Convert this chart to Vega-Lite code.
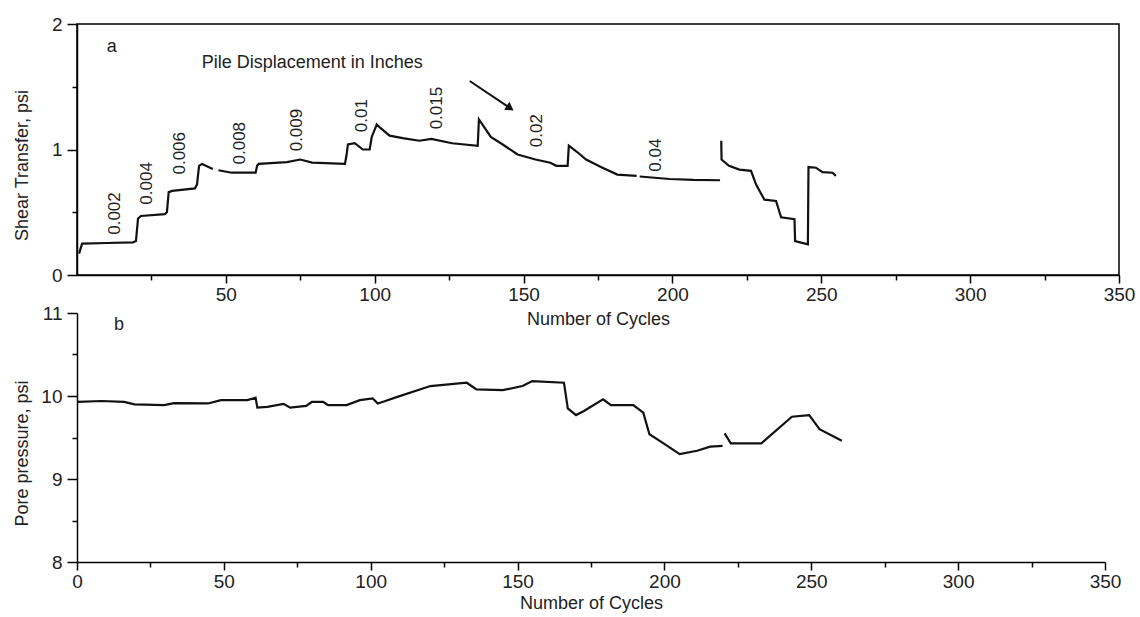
{
  "$schema": "https://vega.github.io/schema/vega-lite/v6.json",
  "background": "white",
  "padding": {"left": 12, "top": 14, "right": 5, "bottom": 5},
  "bounds": "flush",
  "spacing": 38,
  "config": {
    "font": "Liberation Sans",
    "view": {"stroke": null},
    "axis": {
      "grid": false,
      "domainColor": "black",
      "domainWidth": 1.5,
      "tickColor": "black",
      "tickWidth": 1.5,
      "labelColor": "#222",
      "labelFontSize": 19,
      "labelFont": "Liberation Sans",
      "titleFont": "Liberation Sans",
      "titleFontSize": 18,
      "titleFontWeight": "normal",
      "titleColor": "#222",
      "labelFlush": false,
      "labelOverlap": false
    }
  },
  "datasets": {
    "shear": [
      {"cycle": 0.7, "shear": 0.17, "seg": "A"},
      {"cycle": 1.7, "shear": 0.25, "seg": "A"},
      {"cycle": 10, "shear": 0.255, "seg": "A"},
      {"cycle": 18.8, "shear": 0.26, "seg": "A"},
      {"cycle": 19.8, "shear": 0.27, "seg": "A"},
      {"cycle": 20.5, "shear": 0.45, "seg": "A"},
      {"cycle": 21.5, "shear": 0.47, "seg": "A"},
      {"cycle": 29.5, "shear": 0.485, "seg": "A"},
      {"cycle": 30.2, "shear": 0.5, "seg": "A"},
      {"cycle": 30.8, "shear": 0.66, "seg": "A"},
      {"cycle": 32, "shear": 0.67, "seg": "A"},
      {"cycle": 39.6, "shear": 0.69, "seg": "A"},
      {"cycle": 40.3, "shear": 0.72, "seg": "A"},
      {"cycle": 41, "shear": 0.87, "seg": "A"},
      {"cycle": 42, "shear": 0.885, "seg": "A"},
      {"cycle": 45.6, "shear": 0.845, "seg": "A"},
      {"cycle": 47.5, "shear": 0.835, "seg": "B"},
      {"cycle": 52, "shear": 0.815, "seg": "B"},
      {"cycle": 60, "shear": 0.815, "seg": "B"},
      {"cycle": 60.5, "shear": 0.87, "seg": "B"},
      {"cycle": 61, "shear": 0.885, "seg": "B"},
      {"cycle": 70.5, "shear": 0.9, "seg": "B"},
      {"cycle": 75, "shear": 0.92, "seg": "B"},
      {"cycle": 79, "shear": 0.895, "seg": "B"},
      {"cycle": 90, "shear": 0.885, "seg": "B"},
      {"cycle": 90.5, "shear": 0.95, "seg": "B"},
      {"cycle": 91, "shear": 1.04, "seg": "B"},
      {"cycle": 93.3, "shear": 1.05, "seg": "B"},
      {"cycle": 96, "shear": 1.0, "seg": "B"},
      {"cycle": 98.3, "shear": 1.0, "seg": "B"},
      {"cycle": 99, "shear": 1.1, "seg": "B"},
      {"cycle": 100.7, "shear": 1.2, "seg": "B"},
      {"cycle": 102, "shear": 1.17, "seg": "B"},
      {"cycle": 105, "shear": 1.11, "seg": "B"},
      {"cycle": 109.4, "shear": 1.09, "seg": "B"},
      {"cycle": 115, "shear": 1.07, "seg": "B"},
      {"cycle": 119, "shear": 1.085, "seg": "B"},
      {"cycle": 126, "shear": 1.05, "seg": "B"},
      {"cycle": 134.6, "shear": 1.03, "seg": "B"},
      {"cycle": 135, "shear": 1.24, "seg": "B"},
      {"cycle": 137, "shear": 1.17, "seg": "B"},
      {"cycle": 139, "shear": 1.1, "seg": "B"},
      {"cycle": 143, "shear": 1.04, "seg": "B"},
      {"cycle": 148, "shear": 0.96, "seg": "B"},
      {"cycle": 154, "shear": 0.92, "seg": "B"},
      {"cycle": 159, "shear": 0.895, "seg": "B"},
      {"cycle": 161, "shear": 0.87, "seg": "B"},
      {"cycle": 164.8, "shear": 0.87, "seg": "B"},
      {"cycle": 165.2, "shear": 1.03, "seg": "B"},
      {"cycle": 168, "shear": 0.98, "seg": "B"},
      {"cycle": 171, "shear": 0.92, "seg": "B"},
      {"cycle": 176.5, "shear": 0.855, "seg": "B"},
      {"cycle": 181.5, "shear": 0.8, "seg": "B"},
      {"cycle": 188, "shear": 0.79, "seg": "B"},
      {"cycle": 189, "shear": 0.785, "seg": "C"},
      {"cycle": 199, "shear": 0.765, "seg": "C"},
      {"cycle": 207, "shear": 0.758, "seg": "C"},
      {"cycle": 216, "shear": 0.755, "seg": "C"},
      {"cycle": 216.4, "shear": 1.07, "seg": "D"},
      {"cycle": 216.5, "shear": 0.92, "seg": "D"},
      {"cycle": 219, "shear": 0.87, "seg": "D"},
      {"cycle": 222.5, "shear": 0.84, "seg": "D"},
      {"cycle": 226.4, "shear": 0.83, "seg": "D"},
      {"cycle": 228.1, "shear": 0.72, "seg": "D"},
      {"cycle": 230.9, "shear": 0.6, "seg": "D"},
      {"cycle": 234.8, "shear": 0.59, "seg": "D"},
      {"cycle": 236.5, "shear": 0.46, "seg": "D"},
      {"cycle": 241, "shear": 0.445, "seg": "D"},
      {"cycle": 241.2, "shear": 0.27, "seg": "D"},
      {"cycle": 245.5, "shear": 0.245, "seg": "D"},
      {"cycle": 245.7, "shear": 0.86, "seg": "D"},
      {"cycle": 248.2, "shear": 0.855, "seg": "D"},
      {"cycle": 250.4, "shear": 0.82, "seg": "D"},
      {"cycle": 253.8, "shear": 0.815, "seg": "D"},
      {"cycle": 254.9, "shear": 0.79, "seg": "D"}
    ],
    "disp": [
      {"cycle": 12.8, "shear": 0.49, "label": "0.002"},
      {"cycle": 23.5, "shear": 0.73, "label": "0.004"},
      {"cycle": 34.6, "shear": 0.97, "label": "0.006"},
      {"cycle": 54.7, "shear": 1.05, "label": "0.008"},
      {"cycle": 73.8, "shear": 1.155, "label": "0.009"},
      {"cycle": 95.6, "shear": 1.27, "label": "0.01"},
      {"cycle": 120.8, "shear": 1.33, "label": "0.015"},
      {"cycle": 154.4, "shear": 1.15, "label": "0.02"},
      {"cycle": 194.6, "shear": 0.955, "label": "0.04"}
    ],
    "notesA": [
      {"cycle": 11.7, "shear": 1.82, "label": "a"},
      {"cycle": 79, "shear": 1.69, "label": "Pile Displacement in Inches"}
    ],
    "arrow": [
      {"cycle": 131.9, "shear": 1.546, "cycle2": 146, "shear2": 1.322}
    ],
    "arrowHead": [
      {"cycle": 145.5, "shear": 1.33}
    ],
    "pore": [
      {"cycle": 0.3, "pore": 9.93, "seg": "A"},
      {"cycle": 8.4, "pore": 9.94, "seg": "A"},
      {"cycle": 16, "pore": 9.93, "seg": "A"},
      {"cycle": 19.6, "pore": 9.9, "seg": "A"},
      {"cycle": 29.7, "pore": 9.89, "seg": "A"},
      {"cycle": 33, "pore": 9.915, "seg": "A"},
      {"cycle": 44.6, "pore": 9.91, "seg": "A"},
      {"cycle": 49, "pore": 9.95, "seg": "A"},
      {"cycle": 58, "pore": 9.95, "seg": "A"},
      {"cycle": 60.8, "pore": 9.98, "seg": "A"},
      {"cycle": 61.4, "pore": 9.86, "seg": "A"},
      {"cycle": 64.8, "pore": 9.87, "seg": "A"},
      {"cycle": 70.3, "pore": 9.905, "seg": "A"},
      {"cycle": 72.6, "pore": 9.86, "seg": "A"},
      {"cycle": 78, "pore": 9.88, "seg": "A"},
      {"cycle": 80, "pore": 9.93, "seg": "A"},
      {"cycle": 83.8, "pore": 9.93, "seg": "A"},
      {"cycle": 85.5, "pore": 9.89, "seg": "A"},
      {"cycle": 91.8, "pore": 9.89, "seg": "A"},
      {"cycle": 96.3, "pore": 9.95, "seg": "A"},
      {"cycle": 100.7, "pore": 9.97, "seg": "A"},
      {"cycle": 102.4, "pore": 9.91, "seg": "A"},
      {"cycle": 105, "pore": 9.94, "seg": "A"},
      {"cycle": 108.3, "pore": 9.98, "seg": "A"},
      {"cycle": 120.3, "pore": 10.12, "seg": "A"},
      {"cycle": 132.7, "pore": 10.16, "seg": "A"},
      {"cycle": 136, "pore": 10.08, "seg": "A"},
      {"cycle": 145, "pore": 10.07, "seg": "A"},
      {"cycle": 151.7, "pore": 10.12, "seg": "A"},
      {"cycle": 155, "pore": 10.18, "seg": "A"},
      {"cycle": 165.8, "pore": 10.16, "seg": "A"},
      {"cycle": 167.1, "pore": 9.85, "seg": "A"},
      {"cycle": 169.9, "pore": 9.77, "seg": "A"},
      {"cycle": 172.6, "pore": 9.82, "seg": "A"},
      {"cycle": 179.1, "pore": 9.96, "seg": "A"},
      {"cycle": 181.8, "pore": 9.89, "seg": "A"},
      {"cycle": 189.4, "pore": 9.89, "seg": "A"},
      {"cycle": 192.8, "pore": 9.8, "seg": "A"},
      {"cycle": 194.9, "pore": 9.54, "seg": "A"},
      {"cycle": 199.7, "pore": 9.43, "seg": "A"},
      {"cycle": 205.2, "pore": 9.3, "seg": "A"},
      {"cycle": 211.1, "pore": 9.34, "seg": "A"},
      {"cycle": 215.6, "pore": 9.39, "seg": "A"},
      {"cycle": 219.8, "pore": 9.4, "seg": "A"},
      {"cycle": 220.5, "pore": 9.55, "seg": "B"},
      {"cycle": 222.6, "pore": 9.43, "seg": "B"},
      {"cycle": 233, "pore": 9.43, "seg": "B"},
      {"cycle": 243.4, "pore": 9.75, "seg": "B"},
      {"cycle": 249.3, "pore": 9.77, "seg": "B"},
      {"cycle": 252.8, "pore": 9.6, "seg": "B"},
      {"cycle": 260.4, "pore": 9.46, "seg": "B"}
    ],
    "notesB": [
      {"cycle": 14.3, "pore": 10.86, "label": "b"}
    ]
  },
  "vconcat": [
    {
      "width": 1042,
      "height": 251,
      "view": {"stroke": "black", "strokeWidth": 1.5},
      "layer": [
        {
          "data": {"name": "shear"},
          "mark": {"type": "line", "color": "#111", "strokeWidth": 2.2},
          "encoding": {
            "x": {
              "field": "cycle", "type": "quantitative",
              "scale": {"domain": [0, 350], "nice": false},
              "axis": {
                "title": "Number of Cycles",
                "values": [25, 50, 75, 100, 125, 150, 175, 200, 225, 250, 275, 300, 325, 350],
                "labelExpr": "datum.value % 50 === 0 ? datum.label : ''",
                "tickSize": {"condition": {"test": "datum.value % 50 === 0", "value": 8}, "value": 5},
                "labelPadding": 2,
                "titlePadding": 6
              }
            },
            "y": {
              "field": "shear", "type": "quantitative",
              "scale": {"domain": [0, 2], "nice": false},
              "axis": {
                "title": "Shear Transfer, psi",
                "values": [0, 0.5, 1, 1.5, 2],
                "labelExpr": "datum.value % 1 === 0 ? format(datum.value, 'd') : ''",
                "tickSize": {"condition": {"test": "datum.value % 1 === 0", "value": 10}, "value": 5},
                "labelPadding": 5,
                "titleX": -46,
                "titleY": 141
              }
            },
            "detail": {"field": "seg"}
          }
        },
        {
          "data": {"name": "disp"},
          "mark": {"type": "text", "angle": 270, "fontSize": 17, "color": "#222", "align": "center", "baseline": "middle"},
          "encoding": {
            "x": {"field": "cycle", "type": "quantitative"},
            "y": {"field": "shear", "type": "quantitative"},
            "text": {"field": "label"}
          }
        },
        {
          "data": {"name": "notesA"},
          "mark": {"type": "text", "fontSize": 18, "color": "#222", "align": "center", "baseline": "middle"},
          "encoding": {
            "x": {"field": "cycle", "type": "quantitative"},
            "y": {"field": "shear", "type": "quantitative"},
            "text": {"field": "label"}
          }
        },
        {
          "data": {"name": "arrow"},
          "mark": {"type": "rule", "color": "#111", "strokeWidth": 2},
          "encoding": {
            "x": {"field": "cycle", "type": "quantitative"},
            "y": {"field": "shear", "type": "quantitative"},
            "x2": {"field": "cycle2"},
            "y2": {"field": "shear2"}
          }
        },
        {
          "data": {"name": "arrowHead"},
          "mark": {"type": "point", "shape": "triangle-right", "filled": true, "color": "#111", "size": 90, "angle": 34, "opacity": 1},
          "encoding": {
            "x": {"field": "cycle", "type": "quantitative"},
            "y": {"field": "shear", "type": "quantitative"}
          }
        }
      ]
    },
    {
      "width": 1028,
      "height": 249,
      "layer": [
        {
          "data": {"name": "pore"},
          "mark": {"type": "line", "color": "#111", "strokeWidth": 2.2},
          "encoding": {
            "x": {
              "field": "cycle", "type": "quantitative",
              "scale": {"domain": [0, 350], "nice": false},
              "axis": {
                "title": "Number of Cycles",
                "values": [0, 25, 50, 75, 100, 125, 150, 175, 200, 225, 250, 275, 300, 325, 350],
                "labelExpr": "datum.value % 50 === 0 ? datum.label : ''",
                "tickSize": {"condition": {"test": "datum.value % 50 === 0", "value": 8}, "value": 5},
                "labelPadding": 2,
                "titlePadding": 3
              }
            },
            "y": {
              "field": "pore", "type": "quantitative",
              "scale": {"domain": [8, 11], "nice": false, "zero": false},
              "axis": {
                "title": "Pore pressure, psi",
                "values": [8, 8.5, 9, 9.5, 10, 10.5, 11],
                "labelExpr": "datum.value % 1 === 0 ? format(datum.value, 'd') : ''",
                "tickSize": {"condition": {"test": "datum.value % 1 === 0", "value": 10}, "value": 5},
                "labelPadding": 5,
                "titleX": -46,
                "titleY": 140
              }
            },
            "detail": {"field": "seg"}
          }
        },
        {
          "mark": {"type": "rule", "color": "black", "strokeWidth": 1.5},
          "encoding": {"x": {"datum": 350}}
        },
        {
          "data": {"name": "notesB"},
          "mark": {"type": "text", "fontSize": 18, "color": "#222", "align": "center", "baseline": "middle"},
          "encoding": {
            "x": {"field": "cycle", "type": "quantitative"},
            "y": {"field": "pore", "type": "quantitative"},
            "text": {"field": "label"}
          }
        }
      ]
    }
  ]
}
